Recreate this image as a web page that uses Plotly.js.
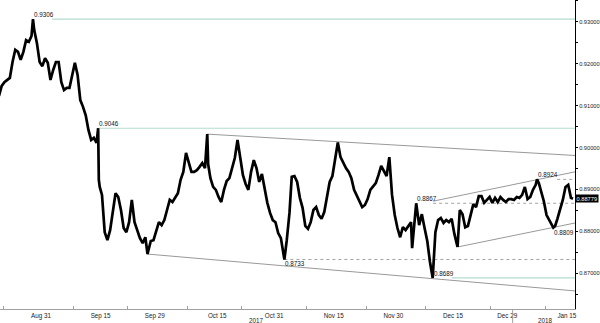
<!DOCTYPE html>
<html><head><meta charset="utf-8">
<script src="https://cdn.plot.ly/plotly-3.0.1.min.js"></script>
<style>html,body{margin:0;padding:0;background:#fff;}#chart{width:600px;height:323px;}</style>
</head><body><div id="chart"></div>
<script>
const times = [
'2017-08-21 06:00','2017-08-21 18:00','2017-08-22 06:00','2017-08-22 18:00','2017-08-23 06:00','2017-08-23 18:00',
'2017-08-24 06:00','2017-08-24 18:00','2017-08-25 06:00','2017-08-25 18:00','2017-08-28 06:00','2017-08-28 18:00',
'2017-08-29 06:00','2017-08-29 12:30','2017-08-29 18:00','2017-08-30 06:00','2017-08-30 18:00','2017-08-31 06:00',
'2017-08-31 18:00','2017-09-01 06:00','2017-09-01 18:00','2017-09-04 06:00','2017-09-04 18:00','2017-09-05 06:00',
'2017-09-05 18:00','2017-09-06 06:00','2017-09-06 18:00','2017-09-07 06:00','2017-09-07 18:00','2017-09-08 06:00',
'2017-09-08 18:00','2017-09-11 06:00','2017-09-11 18:00','2017-09-12 06:00','2017-09-12 18:00','2017-09-13 06:00',
'2017-09-13 18:00','2017-09-14 06:00','2017-09-14 13:00','2017-09-14 16:00','2017-09-14 20:00','2017-09-15 06:00',
'2017-09-15 18:00','2017-09-18 06:00','2017-09-18 18:00','2017-09-19 06:00','2017-09-19 18:00','2017-09-20 06:00',
'2017-09-20 18:00','2017-09-21 06:00','2017-09-21 18:00','2017-09-22 06:00','2017-09-22 18:00','2017-09-25 06:00',
'2017-09-25 18:00','2017-09-26 06:00','2017-09-26 18:00','2017-09-27 06:00','2017-09-27 15:30','2017-09-27 20:00',
'2017-09-28 06:00','2017-09-28 18:00','2017-09-29 06:00','2017-09-29 18:00','2017-10-02 06:00','2017-10-02 18:00',
'2017-10-03 06:00','2017-10-03 18:00','2017-10-04 06:00','2017-10-04 18:00','2017-10-05 06:00','2017-10-05 18:00',
'2017-10-06 06:00','2017-10-06 18:00','2017-10-09 06:00','2017-10-09 18:00','2017-10-10 06:00','2017-10-10 18:00',
'2017-10-11 06:00','2017-10-11 18:00','2017-10-12 06:00','2017-10-12 16:00','2017-10-12 20:00','2017-10-13 06:00',
'2017-10-13 18:00','2017-10-16 06:00','2017-10-16 18:00','2017-10-17 06:00','2017-10-17 18:00','2017-10-18 06:00',
'2017-10-18 18:00','2017-10-19 06:00','2017-10-19 18:00','2017-10-20 06:00','2017-10-20 18:00','2017-10-23 06:00',
'2017-10-23 18:00','2017-10-24 06:00','2017-10-24 18:00','2017-10-25 06:00','2017-10-25 18:00','2017-10-26 06:00',
'2017-10-26 18:00','2017-10-27 06:00','2017-10-27 18:00','2017-10-30 06:00','2017-10-30 18:00','2017-10-31 06:00',
'2017-10-31 18:00','2017-11-01 06:00','2017-11-01 15:00','2017-11-01 21:30','2017-11-02 08:00','2017-11-02 20:00',
'2017-11-03 06:00','2017-11-03 18:00','2017-11-06 06:00','2017-11-06 18:00','2017-11-07 06:00','2017-11-07 18:00',
'2017-11-08 06:00','2017-11-08 18:00','2017-11-09 06:00','2017-11-09 18:00','2017-11-10 06:00','2017-11-10 18:00',
'2017-11-13 06:00','2017-11-13 18:00','2017-11-14 06:00','2017-11-14 18:00','2017-11-15 06:00','2017-11-15 18:00',
'2017-11-16 06:00','2017-11-16 18:00','2017-11-17 06:00','2017-11-17 18:00','2017-11-20 06:00','2017-11-20 18:00',
'2017-11-21 06:00','2017-11-21 18:00','2017-11-22 06:00','2017-11-22 18:00','2017-11-23 06:00','2017-11-23 18:00',
'2017-11-24 06:00','2017-11-24 18:00','2017-11-27 06:00','2017-11-27 18:00','2017-11-28 06:00','2017-11-28 18:00',
'2017-11-29 06:00','2017-11-29 18:00','2017-11-30 06:00','2017-11-30 18:00','2017-12-01 06:00','2017-12-01 18:00',
'2017-12-04 06:00','2017-12-04 18:00','2017-12-05 06:00','2017-12-05 11:00','2017-12-05 18:00','2017-12-06 05:00',
'2017-12-06 18:00','2017-12-07 06:00','2017-12-07 18:00','2017-12-08 06:00','2017-12-08 18:00','2017-12-11 06:00',
'2017-12-11 18:00','2017-12-12 06:00','2017-12-12 18:00','2017-12-13 06:00','2017-12-13 18:00','2017-12-14 06:00',
'2017-12-14 18:00','2017-12-15 06:00','2017-12-15 20:00','2017-12-18 06:00','2017-12-18 18:00','2017-12-19 06:00',
'2017-12-19 18:00','2017-12-20 06:00','2017-12-20 18:00','2017-12-21 06:00','2017-12-21 18:00','2017-12-22 06:00',
'2017-12-22 18:00','2017-12-25 06:00','2017-12-25 18:00','2017-12-26 06:00','2017-12-26 18:00','2017-12-27 06:00',
'2017-12-27 18:00','2017-12-28 06:00','2017-12-28 18:00','2017-12-29 06:00','2017-12-29 18:00','2018-01-01 06:00',
'2018-01-01 18:00','2018-01-02 06:00','2018-01-02 18:00','2018-01-03 06:00','2018-01-03 18:00','2018-01-04 06:00',
'2018-01-04 18:00','2018-01-05 06:00','2018-01-05 12:00','2018-01-05 20:00','2018-01-08 06:00','2018-01-08 18:00',
'2018-01-09 06:00','2018-01-09 18:00','2018-01-10 06:00','2018-01-10 12:00','2018-01-10 20:00','2018-01-11 06:00',
'2018-01-11 18:00','2018-01-12 06:00','2018-01-12 18:00','2018-01-15 06:00','2018-01-15 18:00','2018-01-16 03:00'
];
const prices = [
0.9123,0.9147,0.9156,0.9161,0.9166,0.9204,
0.9233,0.9228,0.9209,0.9228,0.9256,0.9252,
0.9266,0.9306,0.9280,0.9249,0.9204,0.9194,
0.9213,0.9202,0.9161,0.9185,0.9204,0.9204,
0.9156,0.9137,0.9142,0.9142,0.9171,0.9202,
0.9173,0.9113,0.9097,0.9077,0.9042,0.9018,
0.9023,0.9011,0.9046,0.8923,0.8906,0.8887,
0.8798,0.8779,0.8803,0.8851,0.8891,0.8882,
0.8851,0.8808,0.8798,0.8822,0.8875,0.8822,
0.8803,0.8784,0.8772,0.8786,0.8746,0.8758,
0.8777,0.8779,0.8798,0.8822,0.8815,0.8827,
0.8851,0.8875,0.8870,0.8880,0.8891,0.8923,
0.8942,0.8987,0.8963,0.8942,0.8942,0.8946,
0.8954,0.8963,0.8951,0.9032,0.8960,0.8927,
0.8906,0.8899,0.8882,0.8870,0.8899,0.8920,
0.8927,0.8954,0.8975,0.9018,0.8970,0.8934,
0.8913,0.8899,0.8942,0.8970,0.8951,0.8918,
0.8937,0.8903,0.8868,0.8844,0.8827,0.8822,
0.8796,0.8784,0.8751,0.8733,0.8779,0.8844,
0.8930,0.8932,0.8918,0.8880,0.8856,0.8813,
0.8806,0.8822,0.8851,0.8858,0.8839,0.8830,
0.8846,0.8882,0.8918,0.8932,0.8970,0.9012,
0.8977,0.8963,0.8951,0.8942,0.8927,0.8899,
0.8884,0.8870,0.8858,0.8863,0.8877,0.8899,
0.8906,0.8915,0.8934,0.8956,0.8944,0.8932,
0.8977,0.8887,0.8839,0.8808,0.8786,0.8810,
0.8803,0.8813,0.8822,0.8760,0.8798,0.8867,
0.8815,0.8841,0.8808,0.8777,0.8727,0.8689,
0.8798,0.8827,0.8832,0.8820,0.8827,0.8822,
0.8830,0.8794,0.8763,0.8851,0.8841,0.8810,
0.8813,0.8839,0.8865,0.8858,0.8884,0.8884,
0.8868,0.8875,0.8882,0.8868,0.8880,0.8870,
0.8882,0.8875,0.8870,0.8877,0.8877,0.8875,
0.8882,0.8880,0.8887,0.8906,0.8877,0.8882,
0.8899,0.8911,0.8924,0.8915,0.8894,0.8872,
0.8839,0.8825,0.8815,0.8809,0.8813,0.8830,
0.8851,0.8875,0.8906,0.8911,0.8880,0.88779
];

const tickDates = ['2017-08-31','2017-09-15','2017-09-29','2017-10-16 12:00','2017-10-31','2017-11-15','2017-11-30','2017-12-15','2017-12-29','2018-01-15'];
const tickLabels = ['Aug 31','Sep 15','Sep 29','Oct 15','Oct 31','Nov 15','Nov 30','Dec 15','Dec 29','Jan 15'];
const minorTickDates = ['2017-08-22','2017-09-08','2017-09-22','2017-10-09','2017-10-23','2017-11-08','2017-11-23','2017-12-08','2017-12-26','2018-01-09'];
const yearLabels = ['2017','2018'];
const yearBoundary = '2018-01-01';

const rangeStart = '2017-08-21 10:30';
const rangeEnd = '2018-01-16 12:00';

// horizontal levels
const solidLevels = [0.9306, 0.9046, 0.8689];
const solidStarts = ['2017-09-04 01:00', '2017-09-14 14:00', '2017-12-14 18:00'];
const dashedLevels = [0.8733, 0.8867, 0.8924];
const dashedStarts = ['2017-11-01 21:30', '2017-12-11 08:00', '2018-01-11 05:00'];

// trend channels: start time/value -> end value at right edge
const channelStarts = ['2017-10-12 15:00', '2017-09-27 13:30', '2017-12-11 07:00', '2017-12-15 22:00'];
const channelStartVals = [0.9032, 0.8746, 0.8872, 0.8763];
const channelEndVals = [0.8981, 0.8658, 0.8942, 0.8820];

// price labels
const labelTexts = ['0.9306','0.9046','0.8733','0.8867','0.8924','0.8809','0.8689'];
const labelTimes = ['2017-08-29 12:30','2017-09-14 14:00','2017-11-01 21:30','2017-12-06 05:00','2018-01-05 12:00','2018-01-10 12:00','2017-12-11 06:00'];
const labelVals = [0.9306, 0.9046, 0.8733, 0.8867, 0.8924, 0.8809, 0.8689];
const labelBelow = [false, false, true, false, false, true, false];
const lastPrice = 0.88779;

const FONT = 'Liberation Sans, Arial, sans-serif';
const traces = [];
solidLevels.forEach((v, i) => traces.push({
  type: 'scatter', mode: 'lines', x: [solidStarts[i], rangeEnd], y: [v, v],
  line: {color: '#b3dbd0', width: 1.2}, hoverinfo: 'skip', showlegend: false
}));
dashedLevels.forEach((v, i) => traces.push({
  type: 'scatter', mode: 'lines', x: [dashedStarts[i], rangeEnd], y: [v, v],
  line: {color: '#8c8c8c', width: 0.8, dash: '3px,3px'}, hoverinfo: 'skip', showlegend: false
}));
channelStarts.forEach((t, i) => traces.push({
  type: 'scatter', mode: 'lines', x: [t, rangeEnd], y: [channelStartVals[i], channelEndVals[i]],
  line: {color: '#999999', width: 1}, hoverinfo: 'skip', showlegend: false
}));
traces.push({
  type: 'scatter', mode: 'lines', x: times, y: prices,
  line: {color: '#000', width: 2.7}, hoverinfo: 'skip', showlegend: false
});

const annotations = labelTexts.map((t, i) => ({
  x: labelTimes[i], y: labelVals[i], xref: 'x', yref: 'y', text: t, showarrow: false,
  xanchor: 'left', yanchor: labelBelow[i] ? 'top' : 'bottom', borderpad: 0,
  font: {family: FONT, size: 6.3, color: '#111'}
}));
annotations.push({
  xref: 'paper', x: 1, yref: 'y', y: lastPrice, text: lastPrice.toFixed(5), showarrow: false,
  xanchor: 'left', yanchor: 'middle', bgcolor: '#000', borderpad: 0.5, xshift: 0,
  font: {family: FONT, size: 5.7, color: '#fff'}
});
annotations.push({xref: 'paper', x: 256/575, yref: 'paper', y: -0.036, text: yearLabels[0], showarrow: false,
  xanchor: 'center', yanchor: 'middle', font: {family: FONT, size: 6.3, color: '#222'}});
annotations.push({xref: 'paper', x: 545/575, yref: 'paper', y: -0.036, text: yearLabels[1], showarrow: false,
  xanchor: 'center', yanchor: 'middle', font: {family: FONT, size: 6.3, color: '#222'}});

const layout = {
  width: 600, height: 323,
  margin: {l: 0, r: 25, t: 0, b: 14, pad: 0},
  paper_bgcolor: '#fff', plot_bgcolor: '#fff',
  showlegend: false,
  xaxis: {
    type: 'date', range: [rangeStart, rangeEnd],
    rangebreaks: [{bounds: ['sat', 'mon']}],
    tickmode: 'array', tickvals: tickDates, ticktext: tickLabels,
    ticks: '', showgrid: false, zeroline: false,
    showline: true, linecolor: '#a0a0a0', linewidth: 1,
    tickfont: {family: FONT, size: 6.3, color: '#222'},
    minor: {tickmode: 'array', tickvals: minorTickDates, ticks: 'inside', ticklen: 3, tickcolor: '#a0a0a0', showgrid: false},
    automargin: false, fixedrange: true
  },
  yaxis: {
    side: 'right', range: [0.86149, 0.93518],
    tick0: 0.87, dtick: 0.01, tickformat: '.5f',
    ticks: 'outside', ticklen: 2, tickcolor: '#000', tickwidth: 1,
    showline: true, linecolor: '#000', linewidth: 1,
    showgrid: false, zeroline: false,
    tickfont: {family: FONT, size: 5.7, color: '#222'},
    minor: {dtick: 0.005, ticks: 'outside', ticklen: 2, tickcolor: '#000', showgrid: false},
    automargin: false, fixedrange: true
  },
  shapes: [{type: 'line', xref: 'x', x0: yearBoundary, x1: yearBoundary, yref: 'paper', y0: 0, y1: -0.045,
    line: {color: '#a0a0a0', width: 1}}],
  annotations: annotations
};

Plotly.newPlot('chart', traces, layout, {staticPlot: true, displayModeBar: false});
</script>
</body></html>
